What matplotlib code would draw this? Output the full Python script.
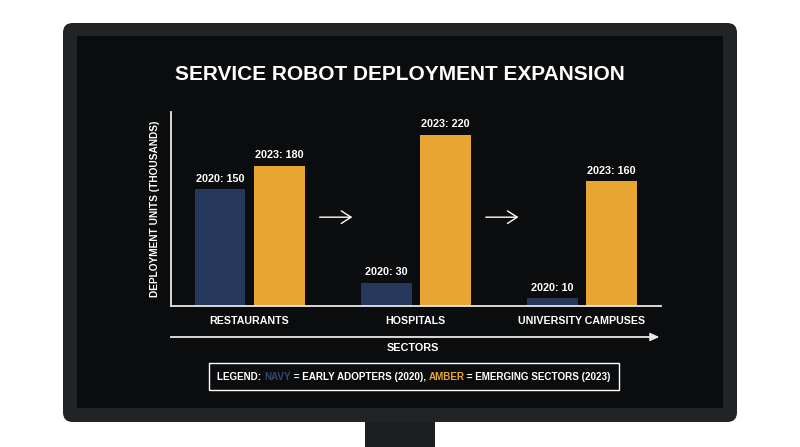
import matplotlib
matplotlib.use("Agg")
import matplotlib.pyplot as plt
from matplotlib.patches import FancyBboxPatch, Rectangle
from matplotlib.offsetbox import TextArea, HPacker, AnnotationBbox
import numpy as np

categories = ["RESTAURANTS", "HOSPITALS", "UNIVERSITY CAMPUSES"]
values_2020 = [150, 30, 10]
values_2023 = [180, 220, 160]
series_labels = ["2020", "2023"]

NAVY = "#27365b"
AMBER = "#e8a531"
SCREEN = "#0b0c0e"
BEZEL = "#222324"
W, H = 800, 447

plt.rcParams['font.family'] = ['Liberation Sans', 'DejaVu Sans']
fig = plt.figure(figsize=(W / 100, H / 100), dpi=100, facecolor="white")


def fx(x):
    return x / W


def fy(y):
    return 1 - y / H


# monitor bezel and stand
fig.add_artist(Rectangle((fx(365), fy(447)), fx(435) - fx(365), fy(421) - fy(447),
                         transform=fig.transFigure, facecolor="#1d1e1f", edgecolor="none", zorder=0))
fig.add_artist(FancyBboxPatch((fx(63), fy(422)), fx(737) - fx(63), fy(23) - fy(422),
                              boxstyle="round,pad=0,rounding_size=0.012",
                              transform=fig.transFigure, facecolor=BEZEL, edgecolor="none", zorder=0,
                              mutation_aspect=W / H))
fig.add_artist(Rectangle((fx(77), fy(408)), fx(723) - fx(77), fy(36) - fy(408),
                         transform=fig.transFigure, facecolor=SCREEN, edgecolor="none", zorder=0))

# title
fig.text(fx(400), fy(74.5), "SERVICE ROBOT DEPLOYMENT EXPANSION", color="white",
         fontsize=15, fontweight="bold", ha="center", va="center")

# axes
ax = fig.add_axes([fx(171), fy(306), fx(661) - fx(171), fy(112) - fy(306)])
ax.set_facecolor("none")
x = np.arange(len(categories))
bw = 0.305
off = 0.178
b1 = ax.bar(x - off, values_2020, bw, color=NAVY, zorder=2)
b2 = ax.bar(x + off, values_2023, bw, color=AMBER, zorder=2)
for rects, vals, lab in ((b1, values_2020, series_labels[0]), (b2, values_2023, series_labels[1])):
    for r, v in zip(rects, vals):
        ax.annotate(f"{lab}: {v}", (r.get_x() + r.get_width() / 2, v), xytext=(0, 4),
                    textcoords="offset points", ha="center", va="bottom",
                    color="white", fontsize=7.8, fontweight="bold")

ax.set_xlim(-0.473, 2.476)
ax.set_ylim(0, 249)
for s in ("top", "right"):
    ax.spines[s].set_visible(False)
for s in ("left", "bottom"):
    ax.spines[s].set_color("#e8e8e8")
    ax.spines[s].set_linewidth(1.3)
ax.set_yticks([])
ax.set_xticks(x)
ax.set_xticklabels(categories, color="white", fontsize=7.7, fontweight="bold")
ax.tick_params(axis="x", length=0, pad=7)
ax.set_ylabel("DEPLOYMENT UNITS (THOUSANDS)", color="white", fontsize=7.3,
              fontweight="bold", labelpad=8)

# progression arrows between groups
for xm in (0.52, 1.52):
    ax.annotate("", xy=(xm + 0.115, 114), xytext=(xm - 0.115, 114),
                arrowprops=dict(arrowstyle="->,head_length=0.7,head_width=0.45",
                                color="white", lw=1.0))

# x direction arrow
fig.add_artist(plt.Line2D([fx(171), fx(655)], [fy(337), fy(337)], color="#e8e8e8", lw=1.3))
ax.annotate("", xy=(fx(662), fy(337)), xytext=(fx(652), fy(337)), xycoords="figure fraction",
            arrowprops=dict(arrowstyle="-|>,head_length=0.55,head_width=0.25",
                            color="#e8e8e8", lw=1.0), annotation_clip=False)
fig.text(fx(413), fy(348), "SECTORS", color="white", fontsize=7.8, fontweight="bold",
         ha="center", va="center")

# legend box with coloured words
fs = 7.15
parts = [("LEGEND: ", "white"), ("NAVY", "#34466f"), (" = EARLY ADOPTERS (2020), ", "white"),
         ("AMBER", AMBER), (" = EMERGING SECTORS (2023)", "white")]
areas = [TextArea(t, textprops=dict(color=c, fontsize=fs, fontweight="bold")) for t, c in parts]
pack = HPacker(children=areas, align="baseline", pad=0, sep=0)
ab = AnnotationBbox(pack, (fx(414), fy(376.5)), xycoords="figure fraction", frameon=True,
                    box_alignment=(0.5, 0.5), pad=0.6,
                    bboxprops=dict(facecolor=SCREEN, edgecolor="white", lw=1.0,
                                   boxstyle="square,pad=0.6"))
fig.add_artist(ab)

fig.savefig("out.png", dpi=100, facecolor="white")
